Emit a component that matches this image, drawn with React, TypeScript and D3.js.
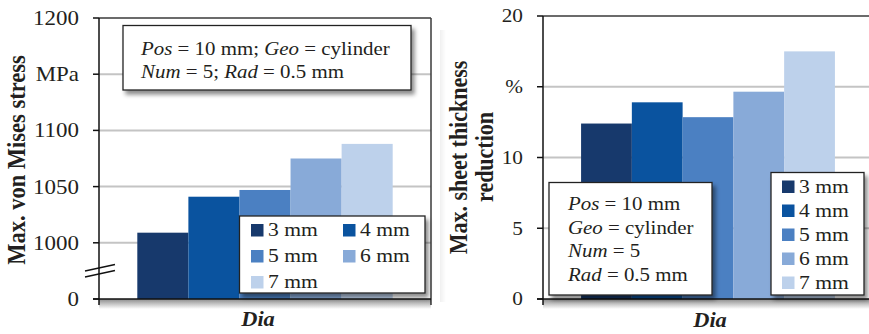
import React from "react";
import * as d3 from "d3";

const seriesNames = ["3 mm", "4 mm", "5 mm", "6 mm", "7 mm"];
const seriesColors = ["#17396c", "#0a539f", "#4b80c2", "#88aad8", "#bdd1eb"];
const category = ["Dia"];

const stressValues = [1009, 1041, 1047, 1075, 1088];
const stressTicks = [950, 1000, 1050, 1100, 1150, 1200];
const stressTickLabels = ["0", "1000", "1050", "1100", "MPa", "1200"];

const thinValues = [12.4, 13.9, 12.85, 14.65, 17.5];
const thinTicks = [0, 5, 10, 15, 20];
const thinTickLabels = ["0", "5", "10", "%", "20"];

const SERIF = "'Liberation Serif', 'Times New Roman', serif";

function T({ x, y, sx = 1.12, rot = 0, size, weight = "normal", italic = false, anchor = "start", children }: any) {
  return (
    <text
      transform={`translate(${x},${y}) scale(${sx},1)${rot ? ` rotate(${rot})` : ""}`}
      fontFamily={SERIF}
      fontSize={size}
      fontWeight={weight}
      fontStyle={italic ? "italic" : "normal"}
      textAnchor={anchor}
      fill="#231f20"
    >
      {children}
    </text>
  );
}

function Panel({ left, right, top, bottom, domain, values, ticks, tickLabels, tickSize, plotEdgeRight, showRightBorder }: any) {
  const y = d3.scaleLinear().domain(domain).range([bottom, top]);
  const xOuter = d3.scaleBand().domain(category).range([left, right]).paddingInner(0).paddingOuter(0.15);
  const xInner = d3.scaleBand().domain(seriesNames).range([0, xOuter.bandwidth()]);
  const g0 = xOuter("Dia") as number;
  return (
    <g>
      {ticks.slice(1, -1).map((t: number) => (
        <line key={t} x1={left} x2={plotEdgeRight} y1={y(t)} y2={y(t)} stroke="#c4c4c4" strokeWidth={2} />
      ))}
      <line x1={left} x2={plotEdgeRight} y1={top} y2={top} stroke="#3a3a3a" strokeWidth={1.5} />
      {showRightBorder && <line x1={right} x2={right} y1={top} y2={bottom + 6} stroke="#3a3a3a" strokeWidth={1.5} />}
      <rect x={left} y={bottom} width={plotEdgeRight - left} height={10} fill="url(#botShadow)" />
      {values.map((v: number, i: number) => (
        <rect
          key={i}
          x={g0 + (xInner(seriesNames[i]) as number)}
          y={y(v)}
          width={xInner.bandwidth()}
          height={bottom - y(v)}
          fill={seriesColors[i]}
        />
      ))}
      <line x1={left} x2={left} y1={top} y2={bottom + 6} stroke="#111" strokeWidth={1.5} />
      <line x1={left - 6} x2={plotEdgeRight} y1={bottom} y2={bottom} stroke="#111" strokeWidth={1.5} />
      {ticks.map((t: number, i: number) => (
        <g key={t}>
          <line x1={left - 6} x2={left} y1={y(t)} y2={y(t)} stroke="#111" strokeWidth={1.5} />
          <T x={left - 20} y={y(t) + tickSize * 0.34} size={tickSize} anchor="end">
            {tickLabels[i]}
          </T>
        </g>
      ))}
    </g>
  );
}

function Legend({ x, y, w, h, items }: any) {
  return (
    <g>
      <rect x={x} y={y} width={w} height={h} fill="#fff" stroke="#222" strokeWidth={1.3} filter="url(#dropSh)" />
      {items.map((it: any, i: number) => (
        <g key={i}>
          <rect x={it.sx} y={it.by - 12} width={12.5} height={12.5} fill={seriesColors[i]} />
          <T x={it.sx + 17} y={it.by} size={18} sx={1.2}>
            {seriesNames[i]}
          </T>
        </g>
      ))}
    </g>
  );
}

export default function App() {
  const leftLegendItems = seriesNames.map((_, i) => ({
    sx: i % 2 === 0 ? 251 : 343,
    by: 236 + Math.floor(i / 2) * 26,
  }));
  const rightLegendItems = seriesNames.map((_, i) => ({ sx: 782, by: 192.5 + i * 24 }));
  return (
    <svg width={869} height={334} style={{ position: "absolute", left: 0, top: 0, background: "#fff" }}>
      <defs>
        <linearGradient id="botShadow" x1="0" y1="0" x2="0" y2="1">
          <stop offset="0" stopColor="#000" stopOpacity={0.45} />
          <stop offset="1" stopColor="#000" stopOpacity={0} />
        </linearGradient>
        <linearGradient id="sideShadow" x1="0" y1="0" x2="1" y2="0">
          <stop offset="0" stopColor="#000" stopOpacity={0.06} />
          <stop offset="1" stopColor="#000" stopOpacity={0} />
        </linearGradient>
        <filter id="dropSh" x="-10%" y="-10%" width="130%" height="140%">
          <feDropShadow dx={3} dy={4} stdDeviation={2} floodColor="#000" floodOpacity={0.45} />
        </filter>
      </defs>
      <rect x={0} y={0} width={869} height={334} fill="#fff" />

      {/* LEFT PANEL */}
      <Panel
        left={99}
        right={431}
        top={18}
        bottom={299}
        domain={[950, 1200]}
        values={stressValues}
        ticks={stressTicks}
        tickLabels={stressTickLabels}
        tickSize={20.5}
        plotEdgeRight={431}
        showRightBorder={true}
      />
      <line x1={85} y1={271} x2={115} y2={264.5} stroke="#111" strokeWidth={1.3} />
      <line x1={85} y1={277} x2={115} y2={270.5} stroke="#111" strokeWidth={1.3} />
      <T x={25} y={160} rot={-90} size={22.5} weight="bold" anchor="middle" sx={1.15}>
        Max. von Mises stress
      </T>
      <T x={258} y={326} size={20} weight="bold" italic anchor="middle" sx={1.12}>
        Dia
      </T>
      <rect x={123} y={25.5} width={288} height={64.5} fill="#fff" stroke="#222" strokeWidth={1.3} filter="url(#dropSh)" />
      <T x={141} y={55} size={19} sx={1.1}>
        <tspan fontStyle="italic">Pos</tspan> = 10 mm; <tspan fontStyle="italic">Geo</tspan> = cylinder
      </T>
      <T x={141} y={78} size={19} sx={1.1}>
        <tspan fontStyle="italic">Num</tspan> = 5; <tspan fontStyle="italic">Rad</tspan> = 0.5 mm
      </T>
      <Legend x={239.5} y={216} w={185.5} h={77} items={leftLegendItems} />

      {/* RIGHT PANEL */}
      <rect x={440} y={30} width={6} height={272} fill="url(#sideShadow)" />
      <Panel
        left={543}
        right={873}
        top={16}
        bottom={299}
        domain={[0, 20]}
        values={thinValues}
        ticks={thinTicks}
        tickLabels={thinTickLabels}
        tickSize={19}
        plotEdgeRight={869}
        showRightBorder={false}
      />
      <T x={467} y={157.5} rot={-90} size={22} weight="bold" anchor="middle" sx={1.15}>
        Max. sheet thickness
      </T>
      <T x={493} y={157} rot={-90} size={22} weight="bold" anchor="middle" sx={1.15}>
        reduction
      </T>
      <T x={710} y={327} size={20} weight="bold" italic anchor="middle" sx={1.12}>
        Dia
      </T>
      <rect x={549} y={182.5} width={163} height={112.5} fill="#fff" stroke="#222" strokeWidth={1.3} filter="url(#dropSh)" />
      <T x={568} y={210} size={19} sx={1.1}>
        <tspan fontStyle="italic">Pos</tspan> = 10 mm
      </T>
      <T x={568} y={233.5} size={19} sx={1.1}>
        <tspan fontStyle="italic">Geo</tspan> = cylinder
      </T>
      <T x={568} y={257} size={19} sx={1.1}>
        <tspan fontStyle="italic">Num</tspan> = 5
      </T>
      <T x={568} y={280.5} size={19} sx={1.1}>
        <tspan fontStyle="italic">Rad</tspan> = 0.5 mm
      </T>
      <Legend x={771} y={172.5} w={93} h={122.5} items={rightLegendItems} />
    </svg>
  );
}
